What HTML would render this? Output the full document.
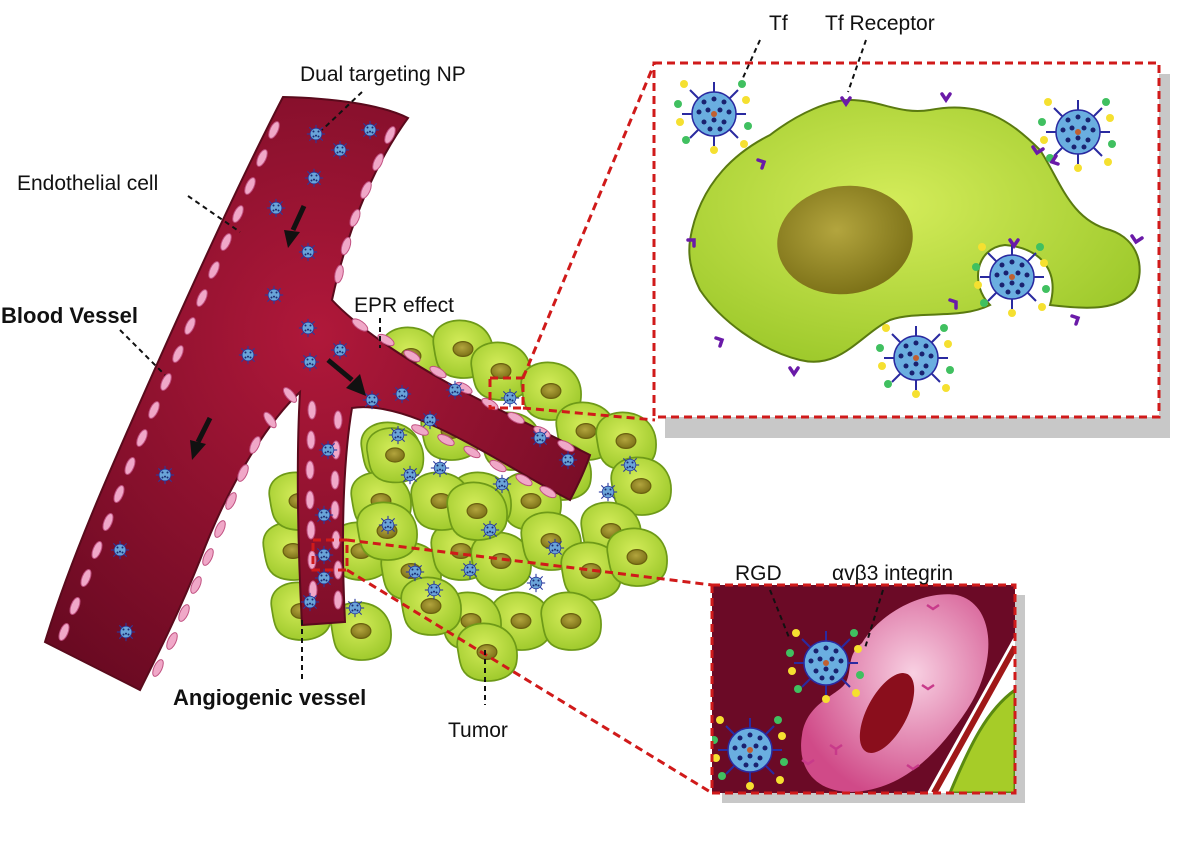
<!DOCTYPE html>
<html><head><meta charset="utf-8"><style>
html,body{margin:0;padding:0;background:#fff;}
svg{display:block;}
text{font-family:"Liberation Sans",Arial,sans-serif;fill:#111;}
</style></head><body>
<svg width="1195" height="848" viewBox="0 0 1195 848" xmlns="http://www.w3.org/2000/svg">
<defs>
<radialGradient id="vg" cx="50%" cy="40%" r="70%"><stop offset="0" stop-color="#b0183a"/><stop offset="1" stop-color="#6a0a22"/></radialGradient>
<radialGradient id="gc" cx="45%" cy="40%" r="65%"><stop offset="0" stop-color="#d4ec5a"/><stop offset="1" stop-color="#9cc82a"/></radialGradient>
<radialGradient id="nu" cx="45%" cy="40%" r="60%"><stop offset="0" stop-color="#b3a53e"/><stop offset="1" stop-color="#7d7218"/></radialGradient>
<radialGradient id="pk" cx="60%" cy="40%" r="65%"><stop offset="0" stop-color="#f8d0e2"/><stop offset="1" stop-color="#d04a88"/></radialGradient>
<symbol id="np" viewBox="-12 -12 24 24">
<circle r="7" fill="#6aa4d8" stroke="#2a3a9a" stroke-width="1"/>
<g stroke="#2a3aa0" stroke-width="1.3"><line x1="0" y1="-7" x2="0" y2="-11"/><line x1="0" y1="7" x2="0" y2="11"/><line x1="-7" y1="0" x2="-11" y2="0"/><line x1="7" y1="0" x2="11" y2="0"/><line x1="5" y1="5" x2="8" y2="8"/><line x1="-5" y1="-5" x2="-8" y2="-8"/><line x1="5" y1="-5" x2="8" y2="-8"/><line x1="-5" y1="5" x2="-8" y2="8"/></g>
<g fill="#1a2a70"><circle cx="-3" cy="-3" r="1.2"/><circle cx="3" cy="-3" r="1.2"/><circle cx="0" cy="2" r="1.2"/><circle cx="-3" cy="3" r="1.2"/><circle cx="3" cy="3" r="1.2"/></g>
</symbol>
<symbol id="bnp" viewBox="-40 -40 80 80">
<g stroke="#2a2aa0" stroke-width="2">
<line x1="0" y1="-22" x2="0" y2="-32"/><line x1="0" y1="22" x2="0" y2="32"/><line x1="-22" y1="0" x2="-32" y2="0"/><line x1="22" y1="0" x2="32" y2="0"/>
<line x1="16" y1="16" x2="24" y2="24"/><line x1="-16" y1="-16" x2="-24" y2="-24"/><line x1="16" y1="-16" x2="24" y2="-24"/><line x1="-16" y1="16" x2="-24" y2="24"/></g>
<circle r="22" fill="#6aaee0" stroke="#2a2aa0" stroke-width="1.5"/>
<g fill="#1a2270"><circle cx="-10" cy="-12" r="2.5"/><circle cx="0" cy="-15" r="2.5"/><circle cx="10" cy="-12" r="2.5"/><circle cx="-15" cy="-2" r="2.5"/><circle cx="-6" cy="-4" r="2.5"/><circle cx="6" cy="-4" r="2.5"/><circle cx="15" cy="-2" r="2.5"/><circle cx="-10" cy="8" r="2.5"/><circle cx="0" cy="6" r="2.5"/><circle cx="10" cy="8" r="2.5"/><circle cx="-4" cy="15" r="2.5"/><circle cx="6" cy="15" r="2.5"/></g>
<circle r="3" fill="#c06030"/>
<circle cx="-30" cy="-30" r="4" fill="#f5e030"/><circle cx="30" cy="30" r="4" fill="#f5e030"/><circle cx="-34" cy="8" r="4" fill="#f5e030"/><circle cx="32" cy="-14" r="4" fill="#f5e030"/><circle cx="0" cy="36" r="4" fill="#f5e030"/>
<circle cx="-28" cy="26" r="4" fill="#40c060"/><circle cx="28" cy="-30" r="4" fill="#40c060"/><circle cx="-36" cy="-10" r="4" fill="#40c060"/><circle cx="34" cy="12" r="4" fill="#40c060"/>
</symbol>
<symbol id="cell" viewBox="-30 -30 60 60">
<path d="M-24,-4 C-26,-20 -8,-26 6,-22 C20,-18 26,-6 24,8 C22,22 4,26 -10,22 C-22,18 -22,8 -24,-4Z" fill="url(#gc)" stroke="#6e9a18" stroke-width="1.4"/>
<ellipse cx="0" cy="0" rx="8" ry="6" fill="url(#nu)" stroke="#6a6010" stroke-width="1"/>
</symbol>
</defs>

<!-- tumor cells -->
<g>
<use href="#cell" x="374" y="319" width="74" height="74"/><use href="#cell" x="426" y="312" width="74" height="74"/><use href="#cell" x="464" y="334" width="74" height="74"/><use href="#cell" x="514" y="354" width="74" height="74"/>
<use href="#cell" x="549" y="394" width="74" height="74"/><use href="#cell" x="589" y="404" width="74" height="74"/><use href="#cell" x="604" y="449" width="74" height="74"/><use href="#cell" x="574" y="494" width="74" height="74"/>
<use href="#cell" x="524" y="434" width="74" height="74"/><use href="#cell" x="494" y="464" width="74" height="74"/><use href="#cell" x="444" y="464" width="74" height="74"/><use href="#cell" x="354" y="414" width="74" height="74"/>
<use href="#cell" x="344" y="464" width="74" height="74"/><use href="#cell" x="324" y="514" width="74" height="74"/><use href="#cell" x="374" y="534" width="74" height="74"/><use href="#cell" x="424" y="514" width="74" height="74"/>
<use href="#cell" x="464" y="524" width="74" height="74"/><use href="#cell" x="514" y="504" width="74" height="74"/><use href="#cell" x="554" y="534" width="74" height="74"/><use href="#cell" x="484" y="584" width="74" height="74"/>
<use href="#cell" x="434" y="584" width="74" height="74"/><use href="#cell" x="394" y="569" width="74" height="74"/><use href="#cell" x="324" y="594" width="74" height="74"/><use href="#cell" x="264" y="574" width="74" height="74"/>
<use href="#cell" x="256" y="514" width="74" height="74"/><use href="#cell" x="262" y="464" width="74" height="74"/><use href="#cell" x="534" y="584" width="74" height="74"/><use href="#cell" x="404" y="464" width="74" height="74"/>
<use href="#cell" x="414" y="394" width="74" height="74"/><use href="#cell" x="474" y="404" width="74" height="74"/><use href="#cell" x="450" y="615" width="74" height="74"/><use href="#cell" x="600" y="520" width="74" height="74"/>
</g>

<!-- blood vessel -->
<path d="M283,97 C330,98 380,104 408,118 C370,170 345,240 332,300 C360,330 420,370 480,400 C520,420 560,440 590,455 C585,470 578,485 570,500 C530,480 470,440 420,420 C395,410 370,405 352,408 C345,450 340,520 345,622 L302,625 C298,550 296,460 300,392 C270,420 230,480 200,560 C180,610 160,650 140,690 L45,642 C70,560 110,470 150,380 C190,290 240,180 283,97Z" fill="url(#vg)" stroke="#5a0a1c" stroke-width="2"/>
<g fill="#f0a8c8" stroke="#c05080" stroke-width="1">
<ellipse cx="274" cy="130" rx="4" ry="9" transform="rotate(25 274 130)"/><ellipse cx="262" cy="158" rx="4" ry="9" transform="rotate(25 262 158)"/><ellipse cx="250" cy="186" rx="4" ry="9" transform="rotate(25 250 186)"/><ellipse cx="238" cy="214" rx="4" ry="9" transform="rotate(25 238 214)"/>
<ellipse cx="226" cy="242" rx="4" ry="9" transform="rotate(25 226 242)"/><ellipse cx="214" cy="270" rx="4" ry="9" transform="rotate(25 214 270)"/><ellipse cx="202" cy="298" rx="4" ry="9" transform="rotate(25 202 298)"/><ellipse cx="190" cy="326" rx="4" ry="9" transform="rotate(25 190 326)"/>
<ellipse cx="178" cy="354" rx="4" ry="9" transform="rotate(25 178 354)"/><ellipse cx="166" cy="382" rx="4" ry="9" transform="rotate(25 166 382)"/><ellipse cx="154" cy="410" rx="4" ry="9" transform="rotate(25 154 410)"/><ellipse cx="142" cy="438" rx="4" ry="9" transform="rotate(25 142 438)"/>
<ellipse cx="130" cy="466" rx="4" ry="9" transform="rotate(22 130 466)"/><ellipse cx="119" cy="494" rx="4" ry="9" transform="rotate(22 119 494)"/><ellipse cx="108" cy="522" rx="4" ry="9" transform="rotate(22 108 522)"/><ellipse cx="97" cy="550" rx="4" ry="9" transform="rotate(22 97 550)"/>
<ellipse cx="86" cy="578" rx="4" ry="9" transform="rotate(22 86 578)"/><ellipse cx="75" cy="606" rx="4" ry="9" transform="rotate(22 75 606)"/><ellipse cx="64" cy="632" rx="4" ry="9" transform="rotate(22 64 632)"/>
<ellipse cx="390" cy="135" rx="4" ry="9" transform="rotate(25 390 135)"/><ellipse cx="378" cy="162" rx="4" ry="9" transform="rotate(25 378 162)"/><ellipse cx="366" cy="190" rx="4" ry="9" transform="rotate(25 366 190)"/><ellipse cx="355" cy="218" rx="4" ry="9" transform="rotate(22 355 218)"/>
<ellipse cx="346" cy="246" rx="4" ry="9" transform="rotate(18 346 246)"/><ellipse cx="339" cy="274" rx="4" ry="9" transform="rotate(12 339 274)"/>
<ellipse cx="360" cy="325" rx="4" ry="9" transform="rotate(-55 360 325)"/><ellipse cx="386" cy="340" rx="4" ry="9" transform="rotate(-60 386 340)"/><ellipse cx="412" cy="356" rx="4" ry="9" transform="rotate(-60 412 356)"/><ellipse cx="438" cy="372" rx="4" ry="9" transform="rotate(-60 438 372)"/><ellipse cx="464" cy="388" rx="4" ry="9" transform="rotate(-60 464 388)"/><ellipse cx="490" cy="404" rx="4" ry="9" transform="rotate(-60 490 404)"/><ellipse cx="516" cy="418" rx="4" ry="9" transform="rotate(-62 516 418)"/><ellipse cx="542" cy="432" rx="4" ry="9" transform="rotate(-62 542 432)"/><ellipse cx="566" cy="446" rx="4" ry="9" transform="rotate(-62 566 446)"/>
<ellipse cx="420" cy="430" rx="4" ry="9" transform="rotate(-65 420 430)"/><ellipse cx="446" cy="440" rx="4" ry="9" transform="rotate(-62 446 440)"/><ellipse cx="472" cy="452" rx="4" ry="9" transform="rotate(-60 472 452)"/><ellipse cx="498" cy="466" rx="4" ry="9" transform="rotate(-60 498 466)"/><ellipse cx="524" cy="480" rx="4" ry="9" transform="rotate(-60 524 480)"/><ellipse cx="548" cy="492" rx="4" ry="9" transform="rotate(-60 548 492)"/>
<ellipse cx="290" cy="395" rx="4" ry="9" transform="rotate(-40 290 395)"/><ellipse cx="270" cy="420" rx="4" ry="9" transform="rotate(-35 270 420)"/>
<ellipse cx="312" cy="410" rx="4" ry="9"/><ellipse cx="311" cy="440" rx="4" ry="9"/><ellipse cx="310" cy="470" rx="4" ry="9"/><ellipse cx="310" cy="500" rx="4" ry="9"/><ellipse cx="311" cy="530" rx="4" ry="9"/><ellipse cx="312" cy="560" rx="4" ry="9"/><ellipse cx="313" cy="590" rx="4" ry="9"/>
<ellipse cx="338" cy="420" rx="4" ry="9"/><ellipse cx="336" cy="450" rx="4" ry="9"/><ellipse cx="335" cy="480" rx="4" ry="9"/><ellipse cx="335" cy="510" rx="4" ry="9"/><ellipse cx="336" cy="540" rx="4" ry="9"/><ellipse cx="338" cy="570" rx="4" ry="9"/><ellipse cx="338" cy="600" rx="4" ry="9"/>
<ellipse cx="255" cy="445" rx="4" ry="9" transform="rotate(25 255 445)"/><ellipse cx="243" cy="473" rx="4" ry="9" transform="rotate(25 243 473)"/><ellipse cx="231" cy="501" rx="4" ry="9" transform="rotate(25 231 501)"/><ellipse cx="220" cy="529" rx="4" ry="9" transform="rotate(25 220 529)"/><ellipse cx="208" cy="557" rx="4" ry="9" transform="rotate(25 208 557)"/><ellipse cx="196" cy="585" rx="4" ry="9" transform="rotate(25 196 585)"/><ellipse cx="184" cy="613" rx="4" ry="9" transform="rotate(25 184 613)"/><ellipse cx="172" cy="641" rx="4" ry="9" transform="rotate(25 172 641)"/><ellipse cx="158" cy="668" rx="4" ry="9" transform="rotate(25 158 668)"/>
</g>
<!-- tumor cells overlapping branch -->
<use href="#cell" x="440" y="474" width="74" height="74"/><use href="#cell" x="350" y="494" width="74" height="74"/><use href="#cell" x="360" y="420" width="70" height="70"/>

<g>
<use href="#np" x="306" y="124" width="20" height="20"/><use href="#np" x="330" y="140" width="20" height="20"/><use href="#np" x="360" y="120" width="20" height="20"/><use href="#np" x="304" y="168" width="20" height="20"/>
<use href="#np" x="266" y="198" width="20" height="20"/><use href="#np" x="298" y="242" width="20" height="20"/><use href="#np" x="264" y="285" width="20" height="20"/><use href="#np" x="298" y="318" width="20" height="20"/>
<use href="#np" x="330" y="340" width="20" height="20"/><use href="#np" x="238" y="345" width="20" height="20"/><use href="#np" x="300" y="352" width="20" height="20"/><use href="#np" x="155" y="465" width="20" height="20"/>
<use href="#np" x="110" y="540" width="20" height="20"/><use href="#np" x="116" y="622" width="20" height="20"/><use href="#np" x="362" y="390" width="20" height="20"/><use href="#np" x="392" y="384" width="20" height="20"/>
<use href="#np" x="420" y="410" width="20" height="20"/><use href="#np" x="445" y="380" width="20" height="20"/><use href="#np" x="388" y="425" width="20" height="20"/><use href="#np" x="500" y="388" width="20" height="20"/>
<use href="#np" x="530" y="428" width="20" height="20"/><use href="#np" x="558" y="450" width="20" height="20"/><use href="#np" x="620" y="455" width="20" height="20"/><use href="#np" x="598" y="482" width="20" height="20"/>
<use href="#np" x="318" y="440" width="20" height="20"/><use href="#np" x="314" y="505" width="20" height="20"/><use href="#np" x="314" y="545" width="20" height="20"/><use href="#np" x="314" y="568" width="20" height="20"/>
<use href="#np" x="300" y="592" width="20" height="20"/><use href="#np" x="345" y="598" width="20" height="20"/><use href="#np" x="378" y="515" width="20" height="20"/><use href="#np" x="405" y="562" width="20" height="20"/>
<use href="#np" x="424" y="580" width="20" height="20"/><use href="#np" x="460" y="560" width="20" height="20"/><use href="#np" x="480" y="520" width="20" height="20"/><use href="#np" x="526" y="573" width="20" height="20"/>
<use href="#np" x="545" y="538" width="20" height="20"/><use href="#np" x="430" y="458" width="20" height="20"/><use href="#np" x="492" y="474" width="20" height="20"/><use href="#np" x="400" y="465" width="20" height="20"/>
</g>
<g stroke="#111" stroke-width="5" fill="#111">
<line x1="304" y1="206" x2="293" y2="230"/><polygon points="284,230 300,232 288,248" stroke="none"/>
<line x1="210" y1="418" x2="198" y2="442"/><polygon points="190,440 206,444 192,460" stroke="none"/>
<line x1="328" y1="360" x2="352" y2="380"/><polygon points="346,388 360,374 366,396" stroke="none"/>
</g>

<g fill="none" stroke="#d01a1a" stroke-width="3" stroke-dasharray="8,5">
<rect x="490" y="378" width="33" height="30"/>
<line x1="523" y1="378" x2="655" y2="62"/>
<line x1="523" y1="408" x2="655" y2="420"/>
<rect x="313" y="540" width="34" height="30"/>
<line x1="347" y1="540" x2="712" y2="585"/>
<line x1="347" y1="570" x2="712" y2="793"/>
</g>

<rect x="665" y="74" width="505" height="364" fill="#c8c8c8"/>
<rect x="654" y="63" width="505" height="354" fill="#fff" stroke="#d01a1a" stroke-width="3" stroke-dasharray="8,5"/>
<path d="M690,240 C700,180 740,150 770,135 C800,112 830,100 850,100 C880,100 900,115 930,110 C980,100 1010,120 1040,150 C1060,180 1070,220 1110,230 C1140,240 1145,270 1135,290 C1120,310 1090,310 1050,305 C1060,270 1040,248 1005,245 C975,248 970,285 990,305 C960,320 920,310 890,320 C860,335 840,370 800,360 C760,350 720,320 700,290 C690,270 688,255 690,240Z" fill="url(#gc)" stroke="#5a7a10" stroke-width="2"/>
<ellipse cx="845" cy="240" rx="68" ry="54" fill="url(#nu)" transform="rotate(-8 845 240)"/>
<use href="#bnp" x="674" y="74" width="80" height="80"/>
<use href="#bnp" x="1038" y="92" width="80" height="80"/>
<use href="#bnp" x="972" y="237" width="80" height="80"/>
<use href="#bnp" x="876" y="318" width="80" height="80"/>
<g stroke="#6a1aa8" stroke-width="3.5" fill="none" stroke-linecap="round">
<path d="M842,98 l4,6 l4,-6"/><path d="M942,94 l4,6 l4,-6"/><path d="M758,160 l6,2 l-2,6"/><path d="M1033,147 l4,6 l6,-4"/><path d="M1056,156 l-4,6 l6,2"/><path d="M688,240 l6,0 l0,6"/><path d="M1132,236 l4,6 l6,-4"/><path d="M716,338 l6,2 l-2,6"/><path d="M790,368 l4,6 l4,-6"/><path d="M1072,316 l6,2 l-2,6"/><path d="M950,300 l6,2 l0,6"/><path d="M1010,240 l4,6 l4,-6"/>
</g>

<rect x="722" y="595" width="303" height="208" fill="#c8c8c8"/>
<svg x="712" y="585" width="303" height="208" overflow="hidden">
<rect width="303" height="208" fill="#6b0a26"/>
<path d="M215,208 L303,50 L303,208Z" fill="#fff"/>
<path d="M222,208 L303,62" stroke="#a01818" stroke-width="6"/>
<path d="M238,208 C258,160 275,125 303,105 L303,208Z" fill="#a6cc28" stroke="#5a8a10" stroke-width="3"/>
<path d="M150,58 C170,25 215,5 245,10 C285,20 285,80 255,125 C225,170 190,205 140,207 C100,207 85,180 90,150 C95,115 130,110 135,95 C140,82 135,70 150,58Z" fill="url(#pk)"/>
<ellipse cx="175" cy="128" rx="20" ry="44" fill="#8a0e1c" transform="rotate(28 175 128)"/>
<use href="#bnp" x="74" y="38" width="80" height="80"/>
<use href="#bnp" x="-2" y="125" width="80" height="80"/>
<g stroke="#c83a8a" stroke-width="2.5" fill="none"><path d="M118,160 l6,4 l6,-4 M124,164 l0,6"/><path d="M90,175 l6,4 l6,-4"/><path d="M195,180 l6,4 l6,-4"/><path d="M210,100 l6,4 l6,-4"/><path d="M215,20 l6,4 l6,-4"/></g>
</svg>
<rect x="712" y="585" width="303" height="208" fill="none" stroke="#d01a1a" stroke-width="3" stroke-dasharray="8,5"/>

<g stroke="#111" stroke-width="2" stroke-dasharray="5,4" fill="none">
<line x1="362" y1="92" x2="322" y2="130"/>
<line x1="188" y1="196" x2="240" y2="232"/>
<line x1="120" y1="330" x2="165" y2="375"/>
<line x1="380" y1="318" x2="380" y2="348"/>
<line x1="302" y1="620" x2="302" y2="680"/>
<line x1="485" y1="650" x2="485" y2="705"/>
<line x1="760" y1="40" x2="742" y2="80"/>
<line x1="866" y1="40" x2="848" y2="92"/>
<line x1="770" y1="590" x2="790" y2="640"/>
<line x1="883" y1="590" x2="865" y2="648"/>
</g>

<text x="300" y="81" font-size="21">Dual targeting NP</text>
<text x="17" y="190" font-size="21">Endothelial cell</text>
<text x="1" y="323" font-size="22" font-weight="bold">Blood Vessel</text>
<text x="354" y="312" font-size="21">EPR effect</text>
<text x="173" y="705" font-size="22" font-weight="bold">Angiogenic vessel</text>
<text x="448" y="737" font-size="21">Tumor</text>
<text x="769" y="30" font-size="21">Tf</text>
<text x="825" y="30" font-size="21">Tf Receptor</text>
<text x="735" y="580" font-size="21">RGD</text>
<text x="832" y="580" font-size="21">αvβ3 integrin</text>
</svg>
</body></html>
